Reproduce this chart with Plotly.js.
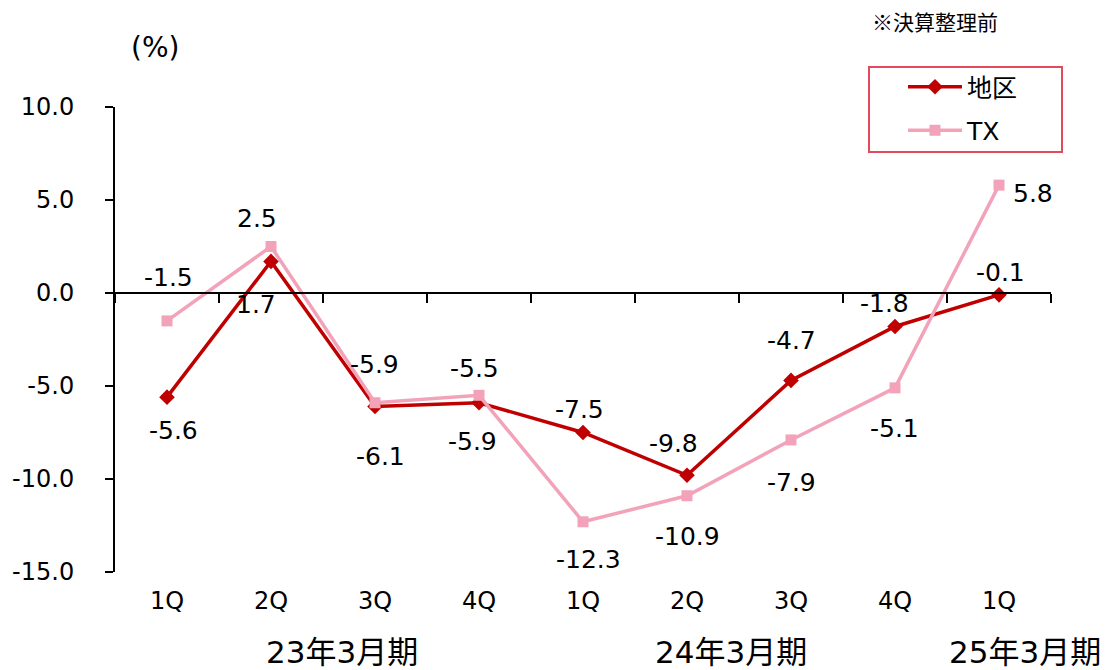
<!DOCTYPE html>
<html>
<head>
<meta charset="utf-8">
<script src="https://cdn.plot.ly/plotly-3.0.1.min.js"></script>
<style>
  html, body { margin: 0; padding: 0; background: #fff; }
  #chart { width: 1109px; height: 670px; }
</style>
</head>
<body>
<div id="chart"></div>
<script>
// ---- data ----
const quarters = ["1Q", "2Q", "3Q", "4Q", "1Q", "2Q", "3Q", "4Q", "1Q"];
const fiscalYears = ["23年3月期", "24年3月期", "25年3月期"];
const chikuValues = [-5.6, 1.7, -6.1, -5.9, -7.5, -9.8, -4.7, -1.8, -0.1];
const txValues = [-1.5, 2.5, -5.9, -5.5, -12.3, -10.9, -7.9, -5.1, 5.8];
const seriesNames = ["地区", "TX"];
const yTickValues = [10, 5, 0, -5, -10, -15];

// ---- label placement (pixel offsets from point) ----
const chikuLabelOffsets = [[6, 33], [-15, 43], [5, 50], [-7, 39], [-4, -23], [-14, -32], [0, -40], [-11, -23], [1, -22]];
const txLabelOffsets = [[1, -43], [-14, -28], [-1, -38], [-5, -27], [5, 38], [0, 41], [0, 43], [-1, 41], [34, 8]];
const fiscalYearPos = [1.68, 5.42, 8.25];

const FONT = "'DejaVu Sans', Verdana, 'Noto Sans CJK JP', sans-serif";
const RED = "#C00000";
const PINK = "#F2A3B9";

const xs = quarters.map((_, i) => i);

const traces = [
  {
    type: "scatter", mode: "lines+markers", name: seriesNames[0],
    x: xs, y: chikuValues, legendgroup: "a",
    line: { color: RED, width: 3.5 },
    marker: { symbol: "diamond", size: 12, color: RED },
    hoverinfo: "skip", cliponaxis: false
  },
  {
    type: "scatter", mode: "lines+markers", name: seriesNames[1],
    x: xs, y: txValues, legendgroup: "b",
    line: { color: PINK, width: 3.5 },
    marker: { symbol: "square", size: 11, color: PINK },
    hoverinfo: "skip", cliponaxis: false
  },
  {
    type: "scatter", mode: "markers", x: xs, y: txValues, xaxis: "x2", yaxis: "y",
    marker: { opacity: 0 }, showlegend: false, hoverinfo: "skip"
  }
];

const annotations = [];
function addLabels(vals, offs) {
  vals.forEach((v, i) => {
    annotations.push({
      xref: "x", yref: "y", x: i, y: v, text: v.toFixed(1), showarrow: false,
      xshift: offs[i][0], yshift: -offs[i][1],
      xanchor: "center", yanchor: "middle",
      font: { family: FONT, size: 25, color: "#000" }
    });
  });
}
addLabels(chikuValues, chikuLabelOffsets);
addLabels(txValues, txLabelOffsets);

fiscalYears.forEach((fy, i) => {
  annotations.push({
    xref: "x", yref: "paper", x: fiscalYearPos[i], y: -0.172, text: fy, showarrow: false,
    xanchor: "center", yanchor: "middle",
    font: { family: FONT, size: 31, color: "#000" }
  });
});
annotations.push({
  xref: "paper", yref: "paper", x: (155 - 115) / 936, y: 1 + (107 - 48) / 465, text: "(%)",
  showarrow: false, xanchor: "center", yanchor: "middle",
  font: { family: FONT, size: 28, color: "#000" }
});
annotations.push({
  xref: "paper", yref: "paper", x: (935 - 115) / 936, y: 1 + (107 - 21) / 465, text: "※決算整理前",
  showarrow: false, xanchor: "center", yanchor: "middle",
  font: { family: "'Noto Sans CJK JP', sans-serif", size: 21, color: "#000" }
});

const layout = {
  width: 1109, height: 670,
  margin: { l: 115, r: 58, t: 107, b: 98 },
  paper_bgcolor: "#fff", plot_bgcolor: "#fff",
  font: { family: FONT, size: 24, color: "#000" },
  showlegend: true,
  legend: {
    x: (903 - 115) / 936, y: 1 + (107 - 64) / 465, xanchor: "left", yanchor: "top",
    bgcolor: "rgba(0,0,0,0)", borderwidth: 0, itemwidth: 54,
    font: { family: FONT, size: 25, color: "#000" },
    tracegroupgap: 8, traceorder: "grouped"
  },
  shapes: [{
    type: "rect", xref: "paper", yref: "paper", layer: "below",
    x0: (869 - 115) / 936, x1: (1062 - 115) / 936,
    y0: 1 + (107 - 152) / 465, y1: 1 + (107 - 67) / 465,
    line: { color: "#E34B5C", width: 2 }, fillcolor: "#fff"
  }],
  xaxis: {
    type: "linear", range: [-0.5, 8.5], tickmode: "array", tickvals: xs, ticktext: quarters,
    showline: false, showgrid: false, zeroline: false, ticks: "", ticklabelstandoff: 12,
    tickfont: { family: FONT, size: 24, color: "#000" }, fixedrange: true
  },
  xaxis2: {
    type: "linear", overlaying: "x", anchor: "free", position: 0.6, side: "bottom",
    range: [-0.5, 8.5], tickmode: "array", tickvals: xs.concat([xs.length]).map(v => v - 0.5),
    showticklabels: false, ticks: "outside", ticklen: 9, tickwidth: 2, tickcolor: "#000",
    showline: true, linecolor: "#000", linewidth: 2, showgrid: false, zeroline: false
  },
  yaxis: {
    range: [-15, 10], tickmode: "array", tickvals: yTickValues,
    ticktext: yTickValues.map(v => v.toFixed(1)),
    showline: true, linecolor: "#000", linewidth: 2,
    ticks: "outside", ticklen: 8, tickwidth: 2, tickcolor: "#000",
    showgrid: false, zeroline: false, ticklabelstandoff: 26,
    tickfont: { family: FONT, size: 24, color: "#000" }
  },
  annotations: annotations
};

Plotly.newPlot("chart", traces, layout, { displayModeBar: false, staticPlot: true });
</script>
</body>
</html>
